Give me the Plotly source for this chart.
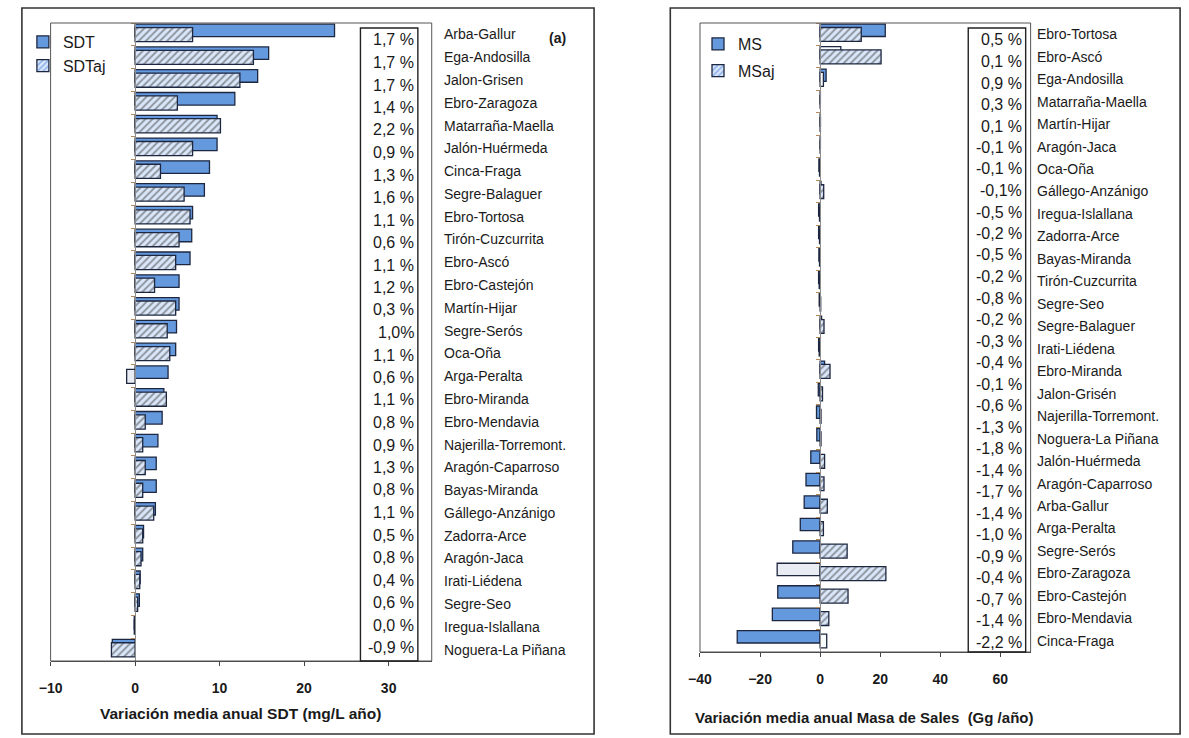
import plotly.graph_objects as go

W, H = 1189, 738

# ---------------- data: left panel (SDT) ----------------
sdt_sites = ["Arba-Gallur", "Ega-Andosilla", "Jalon-Grisen", "Ebro-Zaragoza", "Matarraña-Maella",
             "Jalón-Huérmeda", "Cinca-Fraga", "Segre-Balaguer", "Ebro-Tortosa", "Tirón-Cuzcurrita",
             "Ebro-Ascó", "Ebro-Castejón", "Martín-Hijar", "Segre-Serós", "Oca-Oña", "Arga-Peralta",
             "Ebro-Miranda", "Ebro-Mendavia", "Najerilla-Torremont.", "Aragón-Caparroso",
             "Bayas-Miranda", "Gállego-Anzánigo", "Zadorra-Arce", "Aragón-Jaca", "Irati-Liédena",
             "Segre-Seo", "Iregua-Islallana", "Noguera-La Piñana"]
sdt = [23.6, 15.8, 14.5, 11.8, 9.7, 9.7, 8.8, 8.2, 6.8, 6.7, 6.5, 5.2, 5.2, 4.9, 4.8, 3.9,
       3.4, 3.2, 2.7, 2.5, 2.5, 2.4, 1.0, 0.9, 0.6, 0.5, -0.1, -2.7]
sdtaj = [6.8, 14.0, 12.4, 5.0, 10.1, 6.8, 3.0, 5.8, 6.5, 5.2, 4.8, 2.3, 4.8, 3.8, 4.1, -1.0,
         3.7, 1.2, 0.9, 1.2, 0.9, 2.2, 0.9, 0.7, 0.55, 0.3, -0.1, -2.8]
sdt_pct = ["1,7 %", "1,7 %", "1,7 %", "1,4 %", "2,2 %", "0,9 %", "1,3 %", "1,6 %", "1,1 %", "0,6 %",
           "1,1 %", "1,2 %", "0,3 %", "1,0%", "1,1 %", "0,6 %", "1,1 %", "0,8 %", "0,9 %", "1,3 %",
           "0,8 %", "1,1 %", "0,5 %", "0,8 %", "0,4 %", "0,6 %", "0,0 %", "-0,9 %"]

# ---------------- data: right panel (Masa de Sales) ----------------
ms_sites = ["Ebro-Tortosa", "Ebro-Ascó", "Ega-Andosilla", "Matarraña-Maella", "Martín-Hijar",
            "Aragón-Jaca", "Oca-Oña", "Gállego-Anzánigo", "Iregua-Islallana", "Zadorra-Arce",
            "Bayas-Miranda", "Tirón-Cuzcurrita", "Segre-Seo", "Segre-Balaguer", "Irati-Liédena",
            "Ebro-Miranda", "Jalon-Grisén", "Najerilla-Torremont.", "Noguera-La Piñana",
            "Jalón-Huérmeda", "Aragón-Caparroso", "Arba-Gallur", "Arga-Peralta", "Segre-Serós",
            "Ebro-Zaragoza", "Ebro-Castejón", "Ebro-Mendavia", "Cinca-Fraga"]
ms = [21.7, 6.9, 2.0, 0.1, 0.1, 0.1, -0.4, 0.3, -0.5, -0.5, -0.4, -0.5, -0.3, 0.5, -0.5,
      1.5, -0.6, -1.2, -1.1, -3.1, -4.7, -5.3, -6.6, -9.1, -14.3, -14.1, -15.9, -27.6]
msaj = [13.7, 20.3, 1.1, 0.0, 0.1, 0.0, -0.2, 1.2, -0.2, -0.2, -0.2, -0.3, 0.2, 1.3, -0.3,
        3.3, 0.8, 0.3, 0.3, 1.5, 1.3, 2.4, 1.1, 9.0, 21.9, 9.3, 2.9, 2.2]
ms_pct = ["0,5 %", "0,1 %", "0,9 %", "0,3 %", "0,1 %", "-0,1 %", "-0,1 %", "-0,1%", "-0,5 %",
          "-0,2 %", "-0,5 %", "-0,2 %", "-0,8 %", "-0,2 %", "-0,3 %", "-0,4 %", "-0,1 %", "-0,6 %",
          "-1,3 %", "-1,8 %", "-1,4 %", "-1,7 %", "-1,4 %", "-1,0 %", "-0,9 %", "-0,4 %", "-0,7 %",
          "-1,4 %", "-2,2 %"]

# ---------------- styles ----------------
FONT = "Liberation Sans, Arial, Helvetica, sans-serif"
BLUE = "#6499DE"
EDGE = "#1d2740"
HATCH_BG = "#DAE7FA"
HATCH_FG = "#3F7CD8"
PALE = "#E9ECF2"
WHITE = "#FAFBFD"
TXT = "#1a1a1a"

plain_sdt = {}
plain_sdtaj = {"Arga-Peralta": PALE}
plain_ms = {"Ebro-Ascó": WHITE, "Ebro-Zaragoza": PALE}
plain_msaj = {"Cinca-Fraga": WHITE, "Ega-Andosilla": WHITE}


def px(x):
    return x / W


def py(y):
    return 1 - y / H


# plot areas (pixels)
L_X = (39, 424); L_Y = (23, 661); L_RANGE = [-10, 35.1]
R_X = (695, 1029); R_Y = (23, 652); R_RANGE = [-40, 70.1]

fig = go.Figure()


def add_pair(names, v1, v2, n1, n2, xa, ya, leg, p1, p2):
    fig.add_trace(go.Bar(
        y=names, x=v1, orientation="h", name=n1, xaxis=xa, yaxis=ya, legend=leg,
        legendgroup=n1, offset=-0.45, width=0.55,
        marker=dict(color=[p1.get(s, BLUE) for s in names], line=dict(color=EDGE, width=1.3))))
    fig.add_trace(go.Bar(
        y=names, x=v2, orientation="h", name=n2, xaxis=xa, yaxis=ya, legend=leg,
        legendgroup=n2, offset=-0.30, width=0.62,
        marker=dict(color=[p2.get(s, HATCH_BG) for s in names],
                    line=dict(color=EDGE, width=1.3),
                    pattern=dict(shape=["" if s in p2 else "/" for s in names],
                                 fillmode="overlay", fgcolor=HATCH_FG, size=5, solidity=0.4))))


add_pair(sdt_sites, sdt, sdtaj, "SDT", "SDTaj", "x", "y", "legend", plain_sdt, plain_sdtaj)
add_pair(ms_sites, ms, msaj, "MS", "MSaj", "x2", "y2", "legend2", plain_ms, plain_msaj)


def zero_pos(dom, rng):
    return dom[0] + (0 - rng[0]) / (rng[1] - rng[0]) * (dom[1] - dom[0])


def xaxis(dom, rng, t0, dt, anchor):
    return dict(domain=[px(dom[0]), px(dom[1])], range=rng, anchor=anchor, tickmode="linear",
                tick0=t0, dtick=dt, ticks="outside", ticklen=4, tickcolor="#444",
                showline=True, linecolor="#444", linewidth=1.3, showgrid=False, zeroline=False,
                tickfont=dict(family=FONT, size=14, color=TXT, weight="bold"),
                ticklabelstandoff=10, fixedrange=True)


def yaxis(dom, names, xdom, rng):
    return dict(domain=[py(dom[1]), py(dom[0])], type="category", categoryorder="array",
                categoryarray=names, range=[len(names) - 0.5, -0.5], anchor="free",
                position=zero_pos([px(xdom[0]), px(xdom[1])], rng),
                showline=True, linecolor="#8c8c8c", linewidth=1, ticks="outside",
                tickson="boundaries", ticklen=4, tickcolor="#b58a5c", showticklabels=False,
                showgrid=False, zeroline=False, fixedrange=True)


fig.update_layout(
    width=W, height=H, margin=dict(l=0, r=0, t=0, b=0),
    paper_bgcolor="white", plot_bgcolor="white", barmode="overlay",
    font=dict(family=FONT, color=TXT),
    xaxis=xaxis(L_X, L_RANGE, -10, 10, "y"),
    yaxis=yaxis(L_Y, sdt_sites, L_X, L_RANGE),
    xaxis2=xaxis(R_X, R_RANGE, -40, 20, "y2"),
    yaxis2=yaxis(R_Y, ms_sites, R_X, R_RANGE),
    legend=dict(x=px(11), y=py(25), xanchor="left", yanchor="top", bgcolor="rgba(0,0,0,0)",
                font=dict(family=FONT, size=16, color=TXT), tracegroupgap=0, itemwidth=30),
    legend2=dict(x=px(693), y=py(27), xanchor="left", yanchor="top", bgcolor="rgba(0,0,0,0)",
                 font=dict(family=FONT, size=16, color=TXT), tracegroupgap=3, itemwidth=30),
)

shapes = []
# outer panel frames
for x0, x1 in [(10, 588), (665, 1180)]:
    shapes.append(dict(type="rect", xref="paper", yref="paper", x0=px(x0), x1=px(x1),
                       y0=py(734), y1=py(8), line=dict(color="#333", width=1.6)))
# inner plot frames
for xr, yr in [("x", "y"), ("x2", "y2")]:
    shapes.append(dict(type="rect", xref=xr + " domain", yref=yr + " domain", x0=0, x1=1,
                       y0=0, y1=1, line=dict(color="#555", width=1)))
# percentage boxes
for x0, x1, yb in [(352, 410, 661), (966, 1024, 652)]:
    shapes.append(dict(type="rect", xref="paper", yref="paper", x0=px(x0), x1=px(x1),
                       y0=py(yb), y1=py(28), line=dict(color="#222", width=1.4)))
fig.update_layout(shapes=shapes)

ann = []
# site labels, positioned by the category axes
for s in sdt_sites:
    ann.append(dict(x=px(434), xref="paper", y=s, yref="y", text=s, showarrow=False,
                    xanchor="left", yanchor="middle", font=dict(family=FONT, size=14, color=TXT)))
for s in ms_sites:
    ann.append(dict(x=px(1033), xref="paper", y=s, yref="y2", text=s, showarrow=False,
                    xanchor="left", yanchor="middle", font=dict(family=FONT, size=14, color=TXT)))
# percentage text boxes
for i, t in enumerate(sdt_pct):
    ann.append(dict(x=px(408), xref="paper", y=py(40 + 22.5 * i), yref="paper", text=t,
                    showarrow=False, xanchor="right", yanchor="middle",
                    font=dict(family=FONT, size=16, color=TXT)))
for i, t in enumerate(ms_pct):
    ann.append(dict(x=px(1022), xref="paper", y=py(40 + 21.5 * i), yref="paper", text=t,
                    showarrow=False, xanchor="right", yanchor="middle",
                    font=dict(family=FONT, size=16, color=TXT)))
# axis titles and panel tag
ann.append(dict(x=px(231), y=py(713), xref="paper", yref="paper", showarrow=False,
                xanchor="center", yanchor="middle",
                text="<b>Variación media anual SDT (mg/L año)</b>",
                font=dict(family=FONT, size=15.5, color=TXT)))
ann.append(dict(x=px(861), y=py(717), xref="paper", yref="paper", showarrow=False,
                xanchor="center", yanchor="middle",
                text="<b>Variación media anual Masa de Sales  (Gg /año)</b>",
                font=dict(family=FONT, size=15, color=TXT)))
ann.append(dict(x=px(540), y=py(38), xref="paper", yref="paper", showarrow=False,
                xanchor="left", yanchor="middle", text="<b>(a)</b>",
                font=dict(family=FONT, size=14, color=TXT)))
fig.update_layout(annotations=ann)

fig.write_html("out.html", config={"displayModeBar": False},
               post_script="document.body.style.margin='0';document.body.style.overflow='hidden';")
